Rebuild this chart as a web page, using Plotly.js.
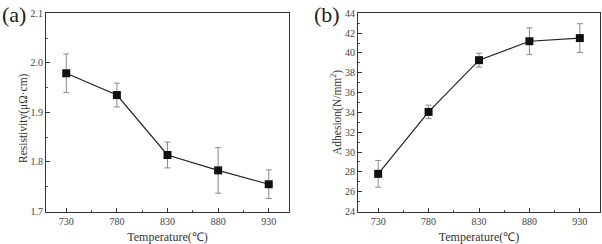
<!DOCTYPE html>
<html><head><meta charset="utf-8">
<script src="https://cdn.plot.ly/plotly-3.0.1.min.js"></script>
<style>html,body{margin:0;padding:0;background:#fff}#c{width:602px;height:244px}</style>
</head><body><div id="c"></div>
<script>
const temps = [730, 780, 830, 880, 930];
const resistivity = [1.979, 1.935, 1.814, 1.783, 1.755];
const resistivityErr = [0.039, 0.024, 0.026, 0.046, 0.029];
const adhesion = [27.8, 34.05, 39.27, 41.18, 41.5];
const adhesionErr = [1.35, 0.68, 0.7, 1.35, 1.45];
const tickVals = [730, 780, 830, 880, 930];

const font = 'Liberation Serif';
function trace(y, err, xa, ya) {
  return {
    x: temps, y: y, xaxis: xa, yaxis: ya, type: 'scatter', mode: 'lines+markers',
    line: {color: '#222', width: 1.2},
    marker: {symbol: 'square', size: 8, color: '#111'},
    error_y: {type: 'data', array: err, visible: true, color: '#8a8a8a', thickness: 1, width: 3},
    showlegend: false, cliponaxis: false
  };
}
const xbase = {
  range: [710, 950], tickvals: tickVals, ticks: 'inside', ticklen: 4, tickwidth: 1, tickcolor: '#333',
  showline: true, linecolor: '#333', linewidth: 1, mirror: true, showgrid: false, zeroline: false,
  tickfont: {family: font, size: 10, color: '#444'},
  minor: {tickvals: [755, 805, 855, 905], ticks: 'inside', ticklen: 2, tickcolor: '#555', showgrid: false},
  title: {text: 'Temperature(℃)', font: {family: font, size: 12, color: '#333'}, standoff: 7}
};
const ybase = {
  ticks: 'inside', ticklen: 4, tickcolor: '#333',
  showline: true, linecolor: '#333', linewidth: 1, mirror: true, showgrid: false, zeroline: false,
  tickfont: {family: font, size: 10, color: '#444'}
};
const titleFont = {family: font, size: 11.5, color: '#333'};
const layout = {
  width: 602, height: 244, margin: {l: 0, r: 0, t: 0, b: 0},
  paper_bgcolor: '#fff', plot_bgcolor: '#fff',
  xaxis: Object.assign({}, xbase, {domain: [46/602, 289/602], anchor: 'y'}),
  xaxis2: Object.assign({}, xbase, {domain: [358/602, 600/602], anchor: 'y2'}),
  yaxis: Object.assign({}, ybase, {
    domain: [1 - 211.5/244, 1 - 13.3/244], anchor: 'x', range: [1.7, 2.1],
    tickvals: [1.7, 1.8, 1.9, 2.0, 2.1], ticktext: ['1.7', '1.8', '1.9', '2.0', '2.1'],
    minor: {tickvals: [1.75, 1.85, 1.95, 2.05], ticks: 'inside', ticklen: 2, tickcolor: '#555', showgrid: false}
  }),
  yaxis2: Object.assign({}, ybase, {
    domain: [1 - 211.5/244, 1 - 13.3/244], anchor: 'x2', range: [24, 44],
    tickvals: [24, 26, 28, 30, 32, 34, 36, 38, 40, 42, 44],
    minor: {tickvals: [25, 27, 29, 31, 33, 35, 37, 39, 41, 43], ticks: 'inside', ticklen: 2, tickcolor: '#555', showgrid: false}
  }),
  annotations: [
    {text: '(a)', xref: 'paper', yref: 'paper', x: 0, y: 1, xanchor: 'left', yanchor: 'top', showarrow: false,
     font: {family: font, size: 22, color: '#222'}},
    {text: '(b)', xref: 'paper', yref: 'paper', x: 312/602, y: 1, xanchor: 'left', yanchor: 'top', showarrow: false,
     font: {family: font, size: 22, color: '#222'}},
    {text: 'Resistivity(μΩ·cm)', xref: 'paper', yref: 'paper', x: 23/602, y: 1 - 118/244, textangle: -90,
     xanchor: 'center', yanchor: 'middle', showarrow: false, font: titleFont},
    {text: 'Adhesion(N/mm<sup>2</sup>)', xref: 'paper', yref: 'paper', x: 336/602, y: 1 - 113/244, textangle: -90,
     xanchor: 'center', yanchor: 'middle', showarrow: false, font: titleFont}
  ]
};
Plotly.newPlot('c', [trace(resistivity, resistivityErr, 'x', 'y'), trace(adhesion, adhesionErr, 'x2', 'y2')], layout, {staticPlot: true});
</script></body></html>
